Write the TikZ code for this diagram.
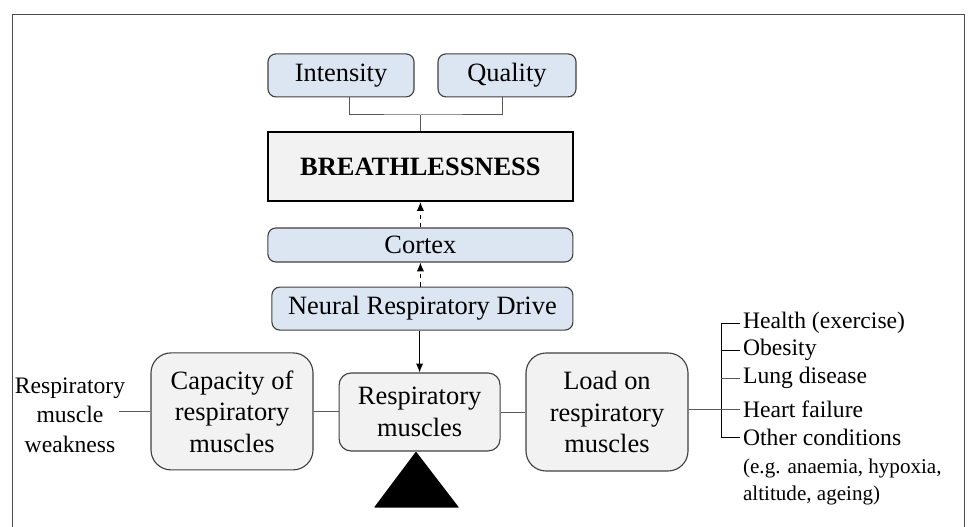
\documentclass[tikz,border=0pt]{standalone}
\usepackage{fontspec}
\setmainfont{Liberation Serif}
\usetikzlibrary{positioning, arrows.meta}
\definecolor{boxblue}{RGB}{220, 230, 242}
\definecolor{boxgrey}{RGB}{242, 242, 242}
\definecolor{edgegrey}{RGB}{64, 64, 64}
\definecolor{linegrey}{RGB}{89, 89, 89}

\begin{document}
\begin{tikzpicture}[
	bluebox/.style={shape=rectangle, draw=edgegrey, fill=boxblue, line width=0.8pt, rounded corners=0.2cm, inner sep=0pt, font=\fontsize{18.8}{22.4}\selectfont},
	greybox/.style={shape=rectangle, draw=edgegrey, fill=boxgrey, line width=0.8pt, inner sep=0pt, align=center, font=\fontsize{18.8}{22.4}\selectfont},
	sidetext/.style={draw=none, fill=none, inner sep=2pt, font=\fontsize{16.8}{21}\selectfont},
	link/.style={linegrey, line width=0.7pt},
	]
	\useasboundingbox (0,0) rectangle (24.2,13.175);
	% frame
	\draw[black!70, line width=0.7pt] (0.3,-0.5) -- (0.3,12.8) -- (24.1,12.8) -- (24.1,-0.5);

	% top part
	\node[bluebox, minimum width=3.65cm, minimum height=1.075cm] (intensity) at (8.525,11.29) {Intensity};
	\node[bluebox, minimum width=3.45cm, minimum height=1.075cm] (quality) at (12.675,11.29) {Quality};
	\node[greybox, draw=black, line width=1.4pt, minimum width=7.625cm, minimum height=1.725cm] (breath) at (10.51,9.01) {\textbf{BREATHLESSNESS}};
	\node[bluebox, minimum width=7.625cm, minimum height=0.85cm] (cortex) at (10.51,7.05) {Cortex};
	\node[bluebox, minimum width=7.525cm, minimum height=1.075cm] (drive) at (10.56,5.46) {Neural Respiratory Drive};
	\coordinate (join) at (breath.north |- 0,10.3);
	\draw[link] ([xshift=0.2cm]intensity.south) |- (join) -| ([xshift=-0.125cm]quality.south);
	\draw[link] (join) -- (breath.north);
	\draw[black, dashed, line width=0.6pt, -{Latex[length=2.2mm,width=1.8mm]}] (cortex.north) -- (cortex.north |- breath.south);
	\draw[black, dashed, line width=0.6pt, -{Latex[length=2.2mm,width=1.8mm]}] (drive.north -| cortex.south) -- (cortex.south);

	% balance
	\node[greybox, rounded corners=0.3cm, minimum width=4.025cm, minimum height=1.95cm] (resp) at (10.49,2.875) {Respiratory\\muscles};
	\node[greybox, rounded corners=0.5cm, minimum width=4.05cm, minimum height=2.925cm] (capacity) at (5.8,2.89) {Capacity of\\respiratory\\muscles};
	\node[greybox, rounded corners=0.5cm, minimum width=4.05cm, minimum height=2.95cm] (load) at (15.175,2.875) {Load on\\respiratory\\muscles};
	\node[sidetext, align=center, inner sep=0pt] (weak) at (1.75,2.8) {Respiratory\\muscle\\weakness};
	\draw[black, line width=0.7pt, -{Latex[length=2.2mm,width=1.8mm]}] (drive.south -| resp.north) -- (resp.north);
	\draw[link] ([xshift=-0.15cm]weak.east |- capacity.west) -- (capacity.west);
	\draw[link] (capacity.east) -- (resp.west |- capacity.east);
	\draw[link] (resp.east) -- (load.west |- resp.east);
	\fill[black, rounded corners=0.5pt] ([xshift=-0.09cm]resp.south) -- ++(-1.05,-1.4) -- ++(2.125,0) -- cycle;

	% causes of load
	\node[sidetext, anchor=west] (health) at (18.5,5.1) {Health (exercise)};
	\node[sidetext, anchor=west] (obesity) at (18.5,4.425) {Obesity};
	\node[sidetext, anchor=west] (lung) at (18.5,3.725) {Lung disease};
	\node[sidetext, anchor=west] (heart) at (18.5,2.95) {Heart failure};
	\node[sidetext, anchor=west] (other) at (18.5,2.25) {Other conditions};
	\node[sidetext, anchor=west, font=\fontsize{15}{19}\selectfont] (eg1) at (18.5,1.475) {(e.g. anaemia, hypoxia,};
	\node[sidetext, anchor=west, font=\fontsize{15}{19}\selectfont] (eg2) at (18.5,0.8) {altitude, ageing)};
	\coordinate (bar) at (18.025,0);
	\draw[black, line width=0.7pt] (health.west) -| (bar |- other.west) -- (other.west);
	\draw[black, line width=0.7pt] (bar |- obesity.west) -- (obesity.west);
	\draw[link] (bar |- lung.west) -- (lung.west);
	\draw[link] (load.east |- heart.west) -- (heart.west);
\end{tikzpicture}
\end{document}
